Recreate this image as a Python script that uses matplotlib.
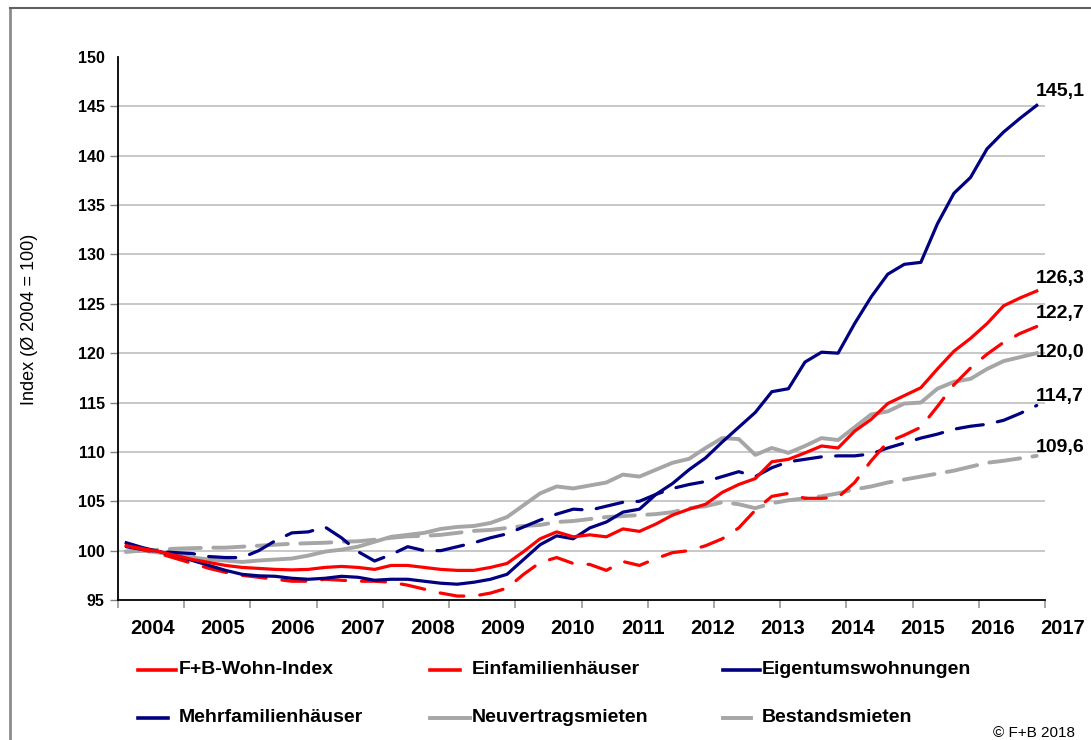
import numpy as np
import matplotlib
matplotlib.use("Agg")
import matplotlib.pyplot as plt
from matplotlib.lines import Line2D

plt.rcParams['font.family'] = ['Liberation Sans', 'DejaVu Sans']

# quarterly index values 2004Q1 .. 2017Q4 (Ø 2004 = 100)
wohn_index = [100.5, 100.2, 99.9, 99.5, 99.1, 98.8, 98.5, 98.3, 98.2, 98.1, 98.05, 98.1,
              98.3, 98.4, 98.3, 98.1, 98.5, 98.5, 98.3, 98.1, 98.0, 98.0, 98.3, 98.7,
              99.9, 101.2, 101.9, 101.4, 101.6, 101.4, 102.2, 101.95, 102.7, 103.6, 104.2, 104.7,
              105.9, 106.7, 107.3, 109.0, 109.25, 109.9, 110.6, 110.4, 112.1, 113.3, 114.9, 115.7,
              116.5, 118.4, 120.2, 121.5, 123.0, 124.8, 125.6, 126.3]
einfamilien = [100.5, 100.1, 99.7, 99.2, 98.7, 98.2, 97.8, 97.5, 97.3, 97.1, 96.9, 96.9,
               97.1, 97.0, 96.9, 96.9, 96.8, 96.5, 96.1, 95.7, 95.4, 95.4, 95.7, 96.2,
               97.6, 98.8, 99.3, 98.7, 98.6, 98.0, 98.9, 98.5, 99.2, 99.8, 100.0, 100.5,
               101.2, 102.3, 104.1, 105.5, 105.8, 105.3, 105.3, 105.4, 106.9, 109.1, 111.0, 111.7,
               112.5, 114.6, 116.8, 118.5, 119.9, 121.1, 122.0, 122.7]
eigentum = [100.8, 100.3, 99.9, 99.5, 99.0, 98.5, 98.0, 97.6, 97.45, 97.4, 97.2, 97.1,
            97.2, 97.4, 97.3, 97.0, 97.1, 97.1, 96.9, 96.7, 96.6, 96.8, 97.1, 97.6,
            99.1, 100.6, 101.5, 101.2, 102.3, 102.9, 103.9, 104.2, 105.7, 106.8, 108.2, 109.4,
            111.0, 112.5, 114.0, 116.1, 116.4, 119.1, 120.1, 120.0, 123.0, 125.7, 128.0, 129.0,
            129.2, 133.1, 136.2, 137.8, 140.7, 142.4, 143.8, 145.1]
mehrfamilien = [100.4, 100.1, 99.9, 99.8, 99.7, 99.4, 99.3, 99.3, 100.0, 101.0, 101.8, 101.9,
                102.4, 101.3, 99.9, 98.95, 99.6, 100.4, 100.0, 100.0, 100.4, 100.8, 101.3, 101.7,
                102.4, 103.1, 103.7, 104.2, 104.1, 104.5, 104.9, 105.0, 105.7, 106.3, 106.7, 107.0,
                107.5, 108.0, 107.5, 108.4, 109.0, 109.25, 109.5, 109.6, 109.6, 109.8, 110.4, 110.9,
                111.4, 111.8, 112.3, 112.6, 112.8, 113.2, 113.9, 114.7]
neuvertrag = [99.9, 100.0, 99.8, 99.5, 99.3, 99.1, 99.0, 98.85, 99.0, 99.1, 99.2, 99.5,
              99.9, 100.1, 100.4, 100.9, 101.4, 101.6, 101.8, 102.2, 102.4, 102.5, 102.8, 103.4,
              104.6, 105.8, 106.5, 106.3, 106.6, 106.9, 107.7, 107.5, 108.2, 108.9, 109.3, 110.4,
              111.4, 111.3, 109.7, 110.4, 109.9, 110.6, 111.4, 111.2, 112.5, 113.8, 114.1, 114.9,
              115.0, 116.4, 117.1, 117.4, 118.4, 119.2, 119.6, 120.0]
bestand = [99.9, 100.0, 100.1, 100.2, 100.25, 100.3, 100.3, 100.4, 100.5, 100.6, 100.7, 100.75,
           100.8, 100.9, 100.95, 101.1, 101.3, 101.45, 101.5, 101.6, 101.8, 102.0, 102.1, 102.3,
           102.5, 102.6, 102.9, 103.0, 103.2, 103.4, 103.5, 103.6, 103.7, 103.9, 104.3, 104.5,
           104.9, 104.7, 104.3, 104.8, 105.1, 105.3, 105.5, 105.8, 106.2, 106.5, 106.9, 107.2,
           107.5, 107.8, 108.1, 108.5, 108.9, 109.1, 109.35, 109.6]

names = ["F+B-Wohn-Index", "Einfamilienhäuser", "Eigentumswohnungen",
         "Mehrfamilienhäuser", "Neuvertragsmieten", "Bestandsmieten"]
years = [str(y) for y in range(2004, 2018)]
yticks = list(range(95, 151, 5))

RED = '#FF0000'
BLUE = '#000080'
GREY = '#A6A6A6'

W, H = 1091, 740
fig = plt.figure(figsize=(W / 100, H / 100), dpi=100)
ax = fig.add_axes([118 / W, 1 - 600 / H, 927 / W, 543 / H])

x = np.arange(len(eigentum)) + 0.5

# series: values, colour, width, dashes, end-label vertical offset
series = [
    (bestand, GREY, 2.8, (8.0, 3.2), 0.85),
    (neuvertrag, GREY, 2.8, None, 0.1),
    (mehrfamilien, BLUE, 2.3, (8.5, 4.5), 0.9),
    (einfamilien, RED, 2.3, (7.5, 5.0), 1.3),
    (eigentum, BLUE, 2.3, None, 1.4),
    (wohn_index, RED, 2.3, None, 1.3),
]

for vals, col, lw, dash, dy in series:
    if dash is None:
        ax.plot(x, vals, color=col, lw=lw, solid_joinstyle='round')
    else:
        ax.plot(x, vals, color=col, lw=lw, dashes=dash, dash_capstyle='round')
    ax.text(x[-1] - 0.05, vals[-1] + dy, f"{vals[-1]:.1f}".replace('.', ','),
            ha='left', va='center', fontsize=14, fontweight='bold', clip_on=False)

ax.set_xlim(0, 56)
ax.set_ylim(95, 150)
ax.set_xticks(np.arange(0, 57, 4))
ax.set_xticklabels([])
ax.tick_params(axis='x', direction='out', length=6, color='#A0A0A0', width=1.3)
ax.set_yticks(yticks)
ax.set_yticklabels([str(t) for t in yticks], fontsize=11.5, fontweight='bold')
ax.tick_params(axis='y', direction='out', length=5.5, color='#808080', width=1.0, pad=4)

ax.grid(axis='y', color='#C4C4C4', lw=1.3)
ax.set_axisbelow(True)
glines = ax.get_ygridlines()
glines[0].set_visible(False)
glines[-1].set_visible(False)
ax.yaxis.get_major_ticks()[-1].tick1line.set_visible(False)

for s in ['top', 'right']:
    ax.spines[s].set_visible(False)
for s in ['left', 'bottom']:
    ax.spines[s].set_color('black')
    ax.spines[s].set_linewidth(1.3)

for k, yr in enumerate(years):
    ax.text(2.1 + 4.23 * k, -0.052, yr, transform=ax.get_xaxis_transform(),
            ha='center', va='center', fontsize=14.5, fontweight='bold')

ax.set_ylabel("Index (Ø 2004 = 100)", fontsize=13)
ax.yaxis.set_label_coords(-0.0863, 0.516)

# legend, drawn by hand in two rows of three
leg_rows = [670, 718]
leg_cols = [(138, 179), (430, 472), (723, 762)]
leg_style = [(RED, 176), (RED, 460), (BLUE, 760),
             (BLUE, 168), (GREY, 470), (GREY, 751)]
for n, name in enumerate(names):
    r, c = divmod(n, 3)
    yy = 1 - leg_rows[r] / H
    x0, xt = leg_cols[c]
    col, x1 = leg_style[n]
    lw = 2.8 if col == GREY else 2.6
    fig.add_artist(Line2D([x0 / W, x1 / W], [yy, yy], transform=fig.transFigure,
                          color=col, lw=lw))
    fig.text(xt / W, yy, name, ha='left', va='center', fontsize=14, fontweight='bold')

fig.text(1075 / W, 1 - 733 / H, "© F+B 2018", ha='right', va='center', fontsize=11)

# outer frame (left and top edges visible)
fig.add_artist(Line2D([10 / W, 10 / W], [0, 1 - 8 / H], transform=fig.transFigure,
                      color='#8C8C8C', lw=2))
fig.add_artist(Line2D([10 / W, 1], [1 - 8 / H, 1 - 8 / H], transform=fig.transFigure,
                      color='#606060', lw=1.5))

fig.savefig("out.png", dpi=100)
